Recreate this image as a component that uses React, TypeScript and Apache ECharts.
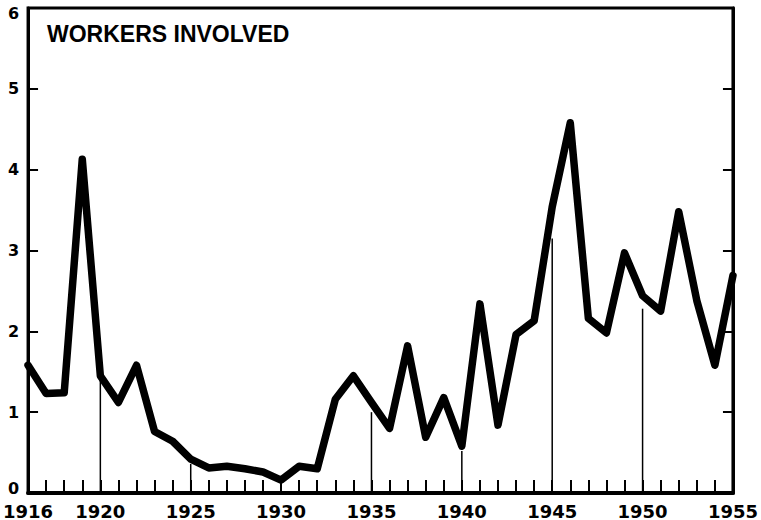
import React, { useEffect, useRef } from "react";
import * as echarts from "echarts";

const years: number[] = [
  1916, 1917, 1918, 1919, 1920, 1921, 1922, 1923, 1924, 1925,
  1926, 1927, 1928, 1929, 1930, 1931, 1932, 1933, 1934, 1935,
  1936, 1937, 1938, 1939, 1940, 1941, 1942, 1943, 1944, 1945,
  1946, 1947, 1948, 1949, 1950, 1951, 1952, 1953, 1954, 1955,
];

// Workers involved in strikes, millions
const workersInvolved: number[] = [
  1.58, 1.23, 1.24, 4.13, 1.45, 1.12, 1.58, 0.76, 0.64, 0.42,
  0.31, 0.33, 0.3, 0.26, 0.16, 0.33, 0.3, 1.16, 1.45, 1.12,
  0.8, 1.82, 0.69, 1.18, 0.58, 2.34, 0.84, 1.96, 2.13, 3.54,
  4.58, 2.16, 1.98, 2.97, 2.44, 2.25, 3.48, 2.38, 1.58, 2.69,
];

// thin vertical guide lines at the five-year marks
const guideYears: number[] = [1920, 1925, 1935, 1940, 1945, 1950];
const guideValues: number[] = [1.4, 0.36, 1.0, 0.52, 3.15, 2.28];

const yTicks: number[] = [0, 1, 2, 3, 4, 5, 6];
const labeledYears: number[] = [1916, 1920, 1925, 1930, 1935, 1940, 1945, 1950, 1955];

const titleText = "WORKERS INVOLVED";

export default function App() {
  const ref = useRef<HTMLDivElement>(null);

  useEffect(() => {
    if (!ref.current) return;
    const chart = echarts.init(ref.current, undefined, { renderer: "svg" });
    const labelFont = "DejaVu Sans";
    const yMin = yTicks[0];
    const yMax = yTicks[yTicks.length - 1];
    chart.setOption({
      animation: false,
      backgroundColor: "#ffffff",
      title: {
        text: titleText,
        left: 47,
        top: 22,
        padding: 0,
        textStyle: {
          fontFamily: "Liberation Sans",
          fontWeight: "bold",
          fontSize: 23,
          color: "#000",
        },
      },
      grid: {
        left: 28,
        right: 22,
        top: 8,
        bottom: 24,
        show: true,
        borderColor: "#000",
        borderWidth: 3,
        backgroundColor: "transparent",
      },
      xAxis: {
        type: "value",
        min: years[0],
        max: years[years.length - 1],
        interval: 1,
        axisLine: { show: true, onZero: false, lineStyle: { color: "#000", width: 4 } },
        axisTick: { show: true, inside: true, length: 13, lineStyle: { color: "#000", width: 2 } },
        splitLine: { show: false },
        axisLabel: {
          margin: 9,
          fontFamily: labelFont,
          fontWeight: "bold",
          fontSize: 18,
          color: "#000",
          formatter: (v: number) => (labeledYears.indexOf(v) >= 0 ? String(v) : ""),
        },
      },
      yAxis: [
        {
          type: "value",
          min: yMin,
          max: yMax,
          interval: 1,
          position: "left",
          axisLine: { show: true, lineStyle: { color: "#000", width: 3 } },
          axisTick: { show: true, inside: true, length: 10, lineStyle: { color: "#000", width: 2 } },
          splitLine: { show: false },
          axisLabel: {
            margin: 9,
            fontFamily: labelFont,
            fontWeight: "bold",
            fontSize: 16,
            color: "#000",
            formatter: (v: number) =>
              v === yMin ? "{lo|" + v + "}" : v === yMax ? "{hi|" + v + "}" : "{n|" + v + "}",
            rich: {
              lo: { fontFamily: labelFont, fontWeight: "bold", fontSize: 16, color: "#000", padding: [0, 0, 9, 0] },
              hi: { fontFamily: labelFont, fontWeight: "bold", fontSize: 16, color: "#000", padding: [10, 0, 0, 0] },
              n: { fontFamily: labelFont, fontWeight: "bold", fontSize: 16, color: "#000" },
            },
          },
        },
        {
          type: "value",
          min: yMin,
          max: yMax,
          interval: 1,
          position: "right",
          axisLine: { show: true, lineStyle: { color: "#000", width: 3 } },
          axisTick: { show: true, inside: true, length: 10, lineStyle: { color: "#000", width: 2 } },
          splitLine: { show: false },
          axisLabel: { show: false },
        },
      ],
      series: [
        {
          type: "bar",
          barWidth: 1.5,
          itemStyle: { color: "#000" },
          data: guideYears.map((y, i) => [y, guideValues[i]]),
          z: 1,
        },
        {
          type: "line",
          data: years.map((y, i) => [y, workersInvolved[i]]),
          showSymbol: false,
          symbol: "none",
          lineStyle: { color: "#000", width: 7.5, join: "round", cap: "round" },
          z: 3,
        },
      ],
    });
    return () => chart.dispose();
  }, []);

  return <div ref={ref} style={{ width: 761, height: 520, position: "absolute", left: 0, top: 0 }} />;
}
